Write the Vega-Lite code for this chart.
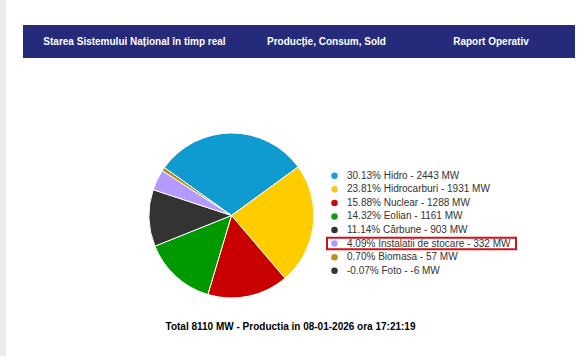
{
  "$schema": "https://vega.github.io/schema/vega-lite/v6.json",
  "background": "white",
  "padding": 0,
  "config": {"view": {"stroke": null}, "font": "Liberation Sans"},
  "datasets": {
    "productie": [
      {"sursa": "Hidro", "procent": 30.13, "MW": 2443, "eticheta": "30.13% Hidro - 2443 MW", "evidentiat": false},
      {"sursa": "Hidrocarburi", "procent": 23.81, "MW": 1931, "eticheta": "23.81% Hidrocarburi - 1931 MW", "evidentiat": false},
      {"sursa": "Nuclear", "procent": 15.88, "MW": 1288, "eticheta": "15.88% Nuclear - 1288 MW", "evidentiat": false},
      {"sursa": "Eolian", "procent": 14.32, "MW": 1161, "eticheta": "14.32% Eolian - 1161 MW", "evidentiat": false},
      {"sursa": "Cărbune", "procent": 11.14, "MW": 903, "eticheta": "11.14% Cărbune - 903 MW", "evidentiat": false},
      {"sursa": "Instalatii de stocare", "procent": 4.09, "MW": 332, "eticheta": "4.09% Instalatii de stocare - 332 MW", "evidentiat": true},
      {"sursa": "Biomasa", "procent": 0.70, "MW": 57, "eticheta": "0.70% Biomasa - 57 MW", "evidentiat": false},
      {"sursa": "Foto", "procent": -0.07, "MW": -6, "eticheta": "-0.07% Foto - -6 MW", "evidentiat": false}
    ]
  },
  "spacing": 17,
  "hconcat": [
    {"width": 6, "height": 356, "view": {"fill": "#ebebeb", "stroke": null}, "data": {"values": []}, "mark": "point"},
    {
      "spacing": 0,
      "vconcat": [
        {"width": 1, "height": 25, "data": {"values": []}, "mark": "point"},
        {
          "spacing": 73,
          "vconcat": [
            {
              "spacing": 0,
              "hconcat": [
                {"width": 223, "height": 33, "view": {"fill": "#252a7a", "stroke": null},
                 "data": {"values": [{"t": "Starea Sistemului Național în timp real"}]},
                 "mark": {"type": "text", "color": "white", "fontWeight": "bold", "fontSize": 10},
                 "encoding": {"text": {"field": "t"}}},
                {"width": 161, "height": 33, "view": {"fill": "#252a7a", "stroke": null},
                 "data": {"values": [{"t": "Producție, Consum, Sold"}]},
                 "mark": {"type": "text", "color": "white", "fontWeight": "bold", "fontSize": 10},
                 "encoding": {"text": {"field": "t"}}},
                {"width": 168, "height": 33, "view": {"fill": "#252a7a", "stroke": null},
                 "data": {"values": [{"t": "Raport Operativ"}]},
                 "mark": {"type": "text", "color": "white", "fontWeight": "bold", "fontSize": 10},
                 "encoding": {"text": {"field": "t"}}}
              ]
            },
            {
              "spacing": 17,
              "vconcat": [
                {
                  "spacing": 10,
                  "hconcat": [
                    {"width": 114, "height": 165, "data": {"values": []}, "mark": "point"},
                    {
                      "width": 165, "height": 165,
                      "data": {"name": "productie"},
                      "transform": [{"filter": "datum.MW > 0"}],
                      "mark": {"type": "arc", "stroke": "white", "strokeWidth": 1},
                      "encoding": {
                        "theta": {"field": "MW", "type": "quantitative", "stack": true, "scale": {"range": [-0.951, 5.332]}},
                        "color": {"field": "sursa", "type": "nominal",
                          "scale": {"domain": ["Hidro", "Hidrocarburi", "Nuclear", "Eolian", "Cărbune", "Instalatii de stocare", "Biomasa", "Foto"],
                                    "range": ["#0f9bd0", "#ffcc00", "#c80000", "#009a00", "#333333", "#b39afc", "#b08a1a", "#333333"]},
                          "legend": null},
                        "order": {"field": "MW", "sort": "descending"}
                      }
                    },
                    {
                      "width": 189, "height": 165,
                      "data": {"name": "productie"},
                      "encoding": {
                        "y": {"field": "eticheta", "type": "nominal",
                              "sort": ["30.13% Hidro - 2443 MW", "23.81% Hidrocarburi - 1931 MW", "15.88% Nuclear - 1288 MW", "14.32% Eolian - 1161 MW", "11.14% Cărbune - 903 MW", "4.09% Instalatii de stocare - 332 MW", "0.70% Biomasa - 57 MW", "-0.07% Foto - -6 MW"],
                              "scale": {"type": "band", "paddingInner": 0.15, "paddingOuter": 0, "range": [37.0, 143.5], "round": false},
                              "axis": null}
                      },
                      "layer": [
                        {
                          "transform": [{"filter": "datum.evidentiat"}],
                          "mark": {"type": "rect", "fill": "transparent", "stroke": "#d0121b", "strokeWidth": 2},
                          "encoding": {
                            "x": {"datum": 0, "type": "quantitative", "scale": {"domain": [0, 189], "zero": false, "nice": false}, "axis": null},
                            "x2": {"datum": 189}
                          }
                        },
                        {
                          "mark": {"type": "point", "filled": true, "size": 42, "opacity": 1},
                          "encoding": {
                            "x": {"datum": 7.5, "type": "quantitative", "axis": null},
                            "color": {"field": "sursa", "type": "nominal",
                              "scale": {"domain": ["Hidro", "Hidrocarburi", "Nuclear", "Eolian", "Cărbune", "Instalatii de stocare", "Biomasa", "Foto"],
                                        "range": ["#1a9fd0", "#f7c71b", "#c40d0d", "#149a14", "#333333", "#b39afc", "#b8911a", "#333333"]},
                              "legend": null}
                          }
                        },
                        {
                          "mark": {"type": "text", "align": "left", "fontSize": 10, "color": "#333333"},
                          "encoding": {
                            "x": {"datum": 20, "type": "quantitative", "axis": null},
                            "text": {"field": "eticheta"}
                          }
                        }
                      ],
                      "resolve": {"scale": {"color": "independent"}}
                    }
                  ]
                },
                {
                  "width": 535, "height": 20,
                  "data": {"values": [{"t": "Total 8110 MW - Productia in 08-01-2026 ora 17:21:19"}]},
                  "mark": {"type": "text", "color": "black", "fontWeight": "bold", "fontSize": 10},
                  "encoding": {"text": {"field": "t"}}
                }
              ]
            }
          ]
        }
      ]
    }
  ],
  "resolve": {"scale": {"color": "independent"}}
}
